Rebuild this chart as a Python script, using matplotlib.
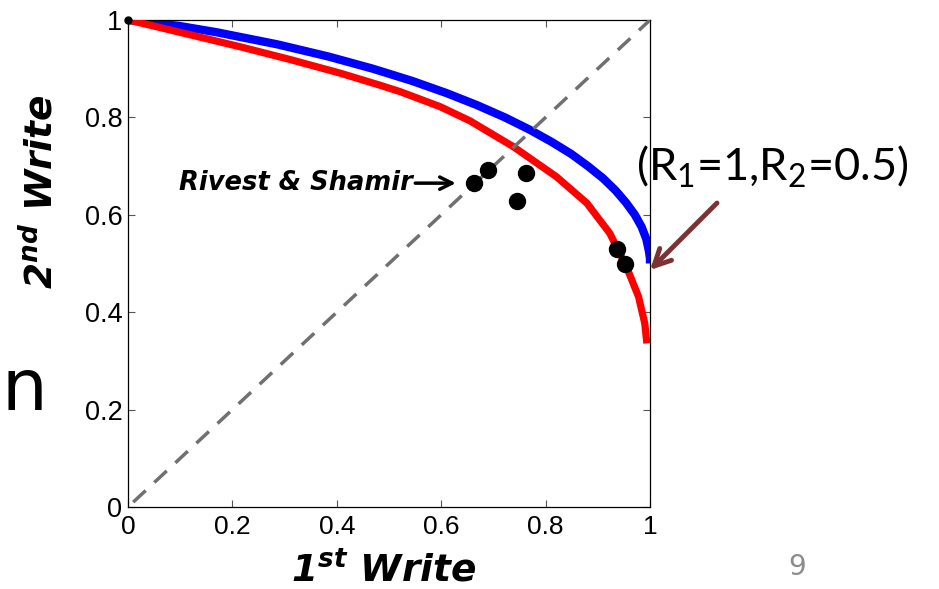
import matplotlib
matplotlib.use("Agg")
import matplotlib.pyplot as plt

# ---- data ----
blue_x = [0.0, 0.097, 0.169, 0.286, 0.384, 0.469, 0.544, 0.610, 0.669, 0.722, 0.769, 0.811,
          0.849, 0.881, 0.910, 0.934, 0.954, 0.971, 0.984, 0.993, 0.998, 1.0, 1.0]
blue_y = [1.0, 0.988, 0.975, 0.95, 0.925, 0.90, 0.875, 0.85, 0.825, 0.80, 0.775, 0.75,
          0.725, 0.70, 0.675, 0.65, 0.625, 0.60, 0.575, 0.55, 0.525, 0.51, 0.50]

red_x = [0.0, 0.048, 0.215, 0.31, 0.406, 0.483, 0.521, 0.598, 0.655, 0.738, 0.821, 0.879,
         0.923, 0.955, 0.978, 0.990, 0.994]
red_y = [1.0, 0.988, 0.945, 0.919, 0.891, 0.866, 0.853, 0.822, 0.793, 0.740, 0.678, 0.624,
         0.562, 0.493, 0.432, 0.377, 0.336]

diag_x = [0.01, 1.0]
diag_y = [0.01, 1.0]

dots_x = [0.662, 0.690, 0.762, 0.745, 0.937, 0.952]
dots_y = [0.665, 0.692, 0.685, 0.629, 0.530, 0.499]

ticks = [0, 0.2, 0.4, 0.6, 0.8, 1]
tick_labels = ["0", "0.2", "0.4", "0.6", "0.8", "1"]

plt.rcParams['mathtext.fontset'] = 'custom'
plt.rcParams['mathtext.bf'] = 'DejaVu Sans:italic:bold'
plt.rcParams['mathtext.rm'] = 'Lato'

W, H = 939, 589
fig = plt.figure(figsize=(W / 100, H / 100), dpi=100)
ax = fig.add_axes([128 / W, 82 / H, 522 / W, 487 / H])

ax.plot(blue_x, blue_y, color='#0000ff', lw=6.0, solid_capstyle='butt',
        solid_joinstyle='round', zorder=2)
ax.plot(red_x, red_y, color='#ff0000', lw=5.2, solid_capstyle='butt',
        solid_joinstyle='round', zorder=3)
ax.plot(diag_x, diag_y, color='#707070', lw=2.5, dashes=(4.9, 3.4), zorder=4)
ax.plot(dots_x, dots_y, 'o', color='black', ms=11.5, zorder=5)
ax.plot([0], [1], 'o', color='black', ms=5, zorder=6, clip_on=False)

ax.set_xlim(0, 1)
ax.set_ylim(0, 1)
ax.set_xticks(ticks)
ax.set_yticks(ticks)
ax.set_xticklabels(tick_labels, fontsize=19, family='Liberation Sans')
ax.set_yticklabels(tick_labels, fontsize=19.5, family='Liberation Sans')
ax.tick_params(direction='in', top=True, right=True, length=5, width=0.8, color='#555555')
ax.tick_params(axis='x', pad=6)
ax.tick_params(axis='y', pad=4)
for s in ax.spines.values():
    s.set_linewidth(0.9)

lab_font = dict(family='DejaVu Sans', weight='bold', style='italic', fontsize=27)
fig.text(384 / W, 1 - 571 / H, r"1$^{\mathbf{st}}$ Write", ha='center', va='center', **lab_font)
fig.text(42 / W, 1 - 192 / H, r"2$^{\mathbf{nd}}$ Write", ha='center', va='center', rotation=90, **lab_font)

# Rivest & Shamir annotation
ax.annotate("Rivest & Shamir", xy=(0.628, 0.665), xycoords='data',
            xytext=(0.545, 0.665), textcoords='data', ha='right', va='center',
            family='DejaVu Sans', weight='bold', style='italic', fontsize=18.5,
            arrowprops=dict(arrowstyle='->', color='black', lw=2.5,
                            shrinkA=0, shrinkB=0, mutation_scale=22))

# (R1=1,R2=0.5) annotation
fig.text(636 / W, 1 - 167 / H, r"(R$_1$=1,R$_2$=0.5)", ha='left', va='center',
         family='Lato', fontsize=32.5)
ax.annotate("", xy=(650 / W, 1 - 270 / H), xycoords='figure fraction',
            xytext=(717 / W, 1 - 203 / H), textcoords='figure fraction',
            arrowprops=dict(arrowstyle='->', color='#7a3232', lw=3.5,
                            shrinkA=0, shrinkB=0, mutation_scale=30))

# slide artifacts
fig.text(797 / W, 1 - 567 / H, "9", ha='center', va='center', color='#8c8c8c',
         family='DejaVu Sans', fontsize=20)
fig.text(1 / W, 1 - 410 / H, "n", ha='left', va='baseline', color='black',
         family='DejaVu Sans', fontsize=52)

fig.savefig("out.png", dpi=100)
